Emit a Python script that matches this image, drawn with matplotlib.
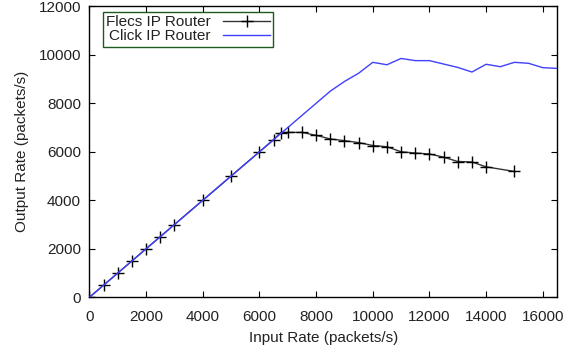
import matplotlib
matplotlib.use("Agg")
import matplotlib.pyplot as plt

plt.rcParams['font.family'] = ['Liberation Sans', 'DejaVu Sans']

# Flecs IP Router (input rate, output rate)
flecs_in = [0, 500, 1000, 1500, 2000, 2500, 3000, 4000, 5000, 6000, 6500, 6750,
            7000, 7500, 8000, 8500, 9000, 9500, 10000, 10500, 11000, 11500,
            12000, 12500, 13000, 13500, 14000, 15000]
flecs_out = [0, 500, 1000, 1500, 2000, 2500, 3000, 4000, 5000, 6000, 6500, 6790,
             6800, 6800, 6680, 6530, 6460, 6380, 6260, 6210, 6000, 5950,
             5910, 5780, 5600, 5580, 5380, 5190]

# Click IP Router
click_in = [0, 1000, 2000, 3000, 4000, 5000, 6000, 7000, 8000, 8500, 9000, 9500,
            10000, 10500, 11000, 11500, 12000, 12500, 13000, 13500, 14000, 14500,
            15000, 15500, 16000, 16500]
click_out = [0, 1000, 2000, 3000, 4000, 5000, 6000, 7000, 8000, 8500, 8900, 9240,
             9690, 9590, 9850, 9760, 9760, 9620, 9480, 9290, 9610, 9510,
             9690, 9650, 9470, 9440]

xticks = list(range(0, 16001, 2000))
yticks = list(range(0, 12001, 2000))

fig = plt.figure(figsize=(5.66, 3.51), dpi=100)
ax = fig.add_axes([0.158, 0.153, 0.826, 0.829])

ax.plot(flecs_in, flecs_out, color='#333333', lw=1.0, marker='+', ms=8.5,
        mew=1.0, mec='black', label='Flecs IP Router', zorder=2)
ax.plot(click_in, click_out, color='#4040ff', lw=1.0, label='Click IP Router',
        zorder=3)

ax.set_xlim(0, 16500)
ax.set_ylim(0, 12000)
ax.set_xticks(xticks)
ax.set_yticks(yticks)
ax.tick_params(direction='in', top=True, right=True, length=4, width=0.8,
               labelsize=11, labelcolor='#222222')
ax.tick_params(axis='x', pad=9)
ax.tick_params(axis='y', pad=6)
for s in ax.spines.values():
    s.set_linewidth(1.0)

ax.set_xlabel('Input Rate (packets/s)', fontsize=11, color='#222222', labelpad=5)
ax.set_ylabel('Output Rate (packets/s)', fontsize=11, color='#222222', labelpad=7)

# gnuplot style key box
leg = ax.legend(loc='upper left', bbox_to_anchor=(0.029, 0.979), borderaxespad=0,
                markerfirst=False, fancybox=False, fontsize=11, numpoints=1,
                handlelength=3.1, handletextpad=0.8, borderpad=0.2,
                labelspacing=0.0, framealpha=1, edgecolor='#1e5a1e')
leg.get_frame().set_linewidth(1.0)
for t in leg.get_texts():
    t.set_color('#222222')

fig.savefig('out.png', dpi=100)
